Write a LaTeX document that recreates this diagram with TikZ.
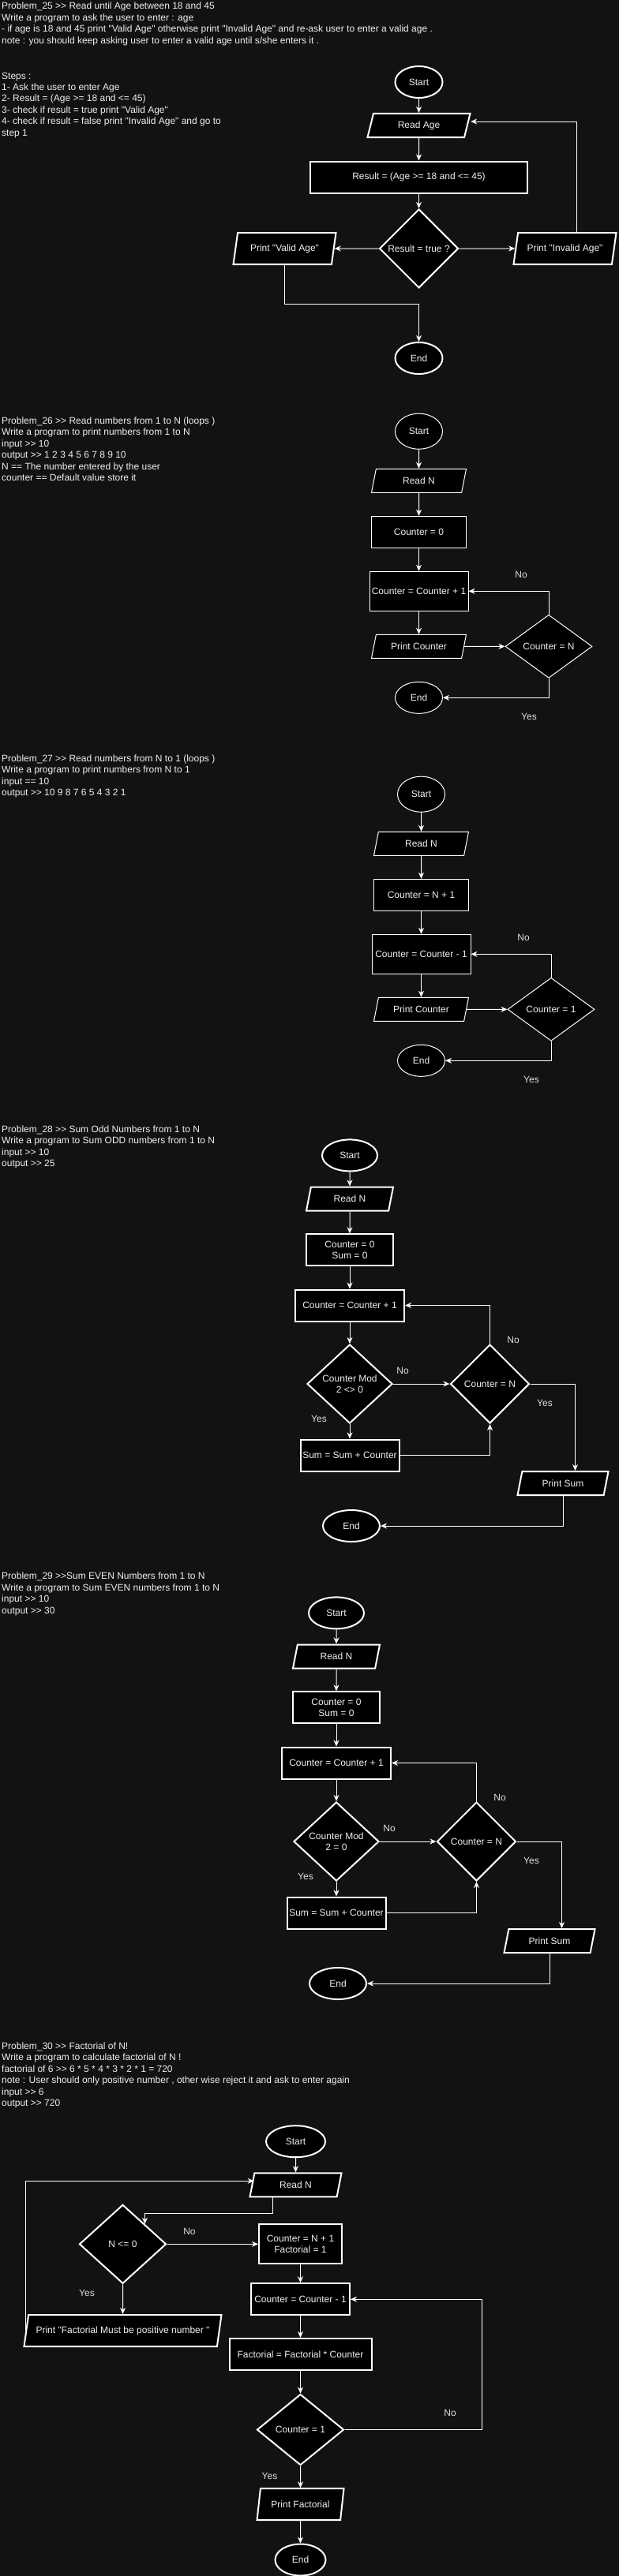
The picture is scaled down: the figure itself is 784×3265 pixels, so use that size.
\documentclass[tikz,border=0pt]{standalone}
\usepackage{fontspec}
\setmainfont{Liberation Sans}[Ligatures=TeXOff]
\usetikzlibrary{shapes.geometric,arrows.meta,calc}

\definecolor{bgc}{HTML}{121212}
\definecolor{fgc}{HTML}{F0F0F0}
\definecolor{lblc}{HTML}{E0E0E0}

\tikzset{
  flowshape/.style={draw=white, fill=black, text=fgc, line width=2pt, inner sep=0pt,
    align=center, font=\fontsize{12pt}{14.4pt}\selectfont},
  startstop/.style={flowshape, ellipse},
  proc/.style={flowshape, rectangle},
  decide/.style={flowshape, diamond},
  inout/.style={flowshape, trapezium, trapezium stretches body,
    trapezium left angle=56.31, trapezium right angle=123.69, minimum height=30pt},
  inoutl/.style={flowshape, trapezium, trapezium stretches body,
    trapezium left angle=63.43, trapezium right angle=116.57, minimum height=40pt},
  slim/.style={line width=1pt},
  txt/.style={text=fgc, inner sep=0pt, anchor=north west, align=left,
    font=\fontsize{12pt}{14.4pt}\selectfont},
  lbl/.style={text=lblc, inner sep=0pt, font=\fontsize{12pt}{14.4pt}\selectfont},
  flow/.style={draw=white, line width=1pt, -{Stealth[length=8pt,width=7pt,inset=2.5pt]}},
}

\begin{document}
\begin{tikzpicture}[x=1pt,y=-1pt]
  \fill[bgc] (0,0) rectangle (784,3265);
  \useasboundingbox (0,0) rectangle (784,3265);

  % Problem 25
  \node[txt] (head25) at (2,3) {Problem\_25 >> Read until Age between 18 and 45\\
    Write a program to ask the user to enter : age\\
    - if age is 18 and 45 print "Valid Age" otherwise print "Invalid Age" and re-ask user to enter a valid age .\\
    note : you should keep asking user to enter a valid age until s/she enters it .};
  \node[txt] (steps25) at (2,91.5) {Steps :\\
    1- Ask the user to enter Age\\
    2- Result = (Age >= 18 and <= 45)\\
    3- check if result = true print "Valid Age"\\
    4- check if result = false print "Invalid Age" and go to\\
    step 1};

  \node[startstop, minimum width=60pt, minimum height=40pt] (start25) at (530.5,104) {Start};
  \node[inout, minimum width=130pt] (read25) at (530.5,159) {Read Age};
  \node[proc, minimum width=275pt, minimum height=40pt] (calc25) at (530.5,224.5) {Result = (Age >= 18 and <= 45)};
  \node[decide, minimum width=100pt, minimum height=100pt] (test25) at (530.5,315) {Result = true ?};
  \node[inoutl, minimum width=130pt] (valid25) at (360.5,315) {Print "Valid Age"};
  \node[inoutl, minimum width=130pt] (invalid25) at (715.5,315) {Print "Invalid Age"};
  \node[startstop, minimum width=60pt, minimum height=40pt] (end25) at (530.5,454) {End};

  \draw[flow] (start25) -- (read25);
  \draw[flow] (read25) -- (calc25);
  \draw[flow] (calc25) -- (test25);
  \draw[flow] (test25) -- (valid25);
  \draw[flow] (test25) -- (invalid25);
  \draw[flow] ($(invalid25.north)+(14.5,0)$) |- ($(read25.east)+(3.3,-5)$);
  \draw[flow] (valid25.south) -- ++(0,49) -| (end25.north);

  % Problem 26
  \node[txt] (head26) at (2,528.5) {Problem\_26 >> Read numbers from 1 to N (loops )\\
    Write a program to print numbers from 1 to N\\
    input >> 10\\
    output >> 1 2 3 4 5 6 7 8 9 10\\
    N == The number entered by the user\\
    counter == Default value store it};

  \node[startstop, slim, minimum width=60pt, minimum height=45pt] (start26) at (530.5,546.7) {Start};
  \node[inout, slim, minimum width=120pt] (read26) at (530.5,609.3) {Read N};
  \node[proc, slim, minimum width=120pt, minimum height=40pt] (init26) at (530.5,674.3) {Counter = 0};
  \node[proc, slim, minimum width=125pt, minimum height=50pt] (inc26) at (530.5,749.3) {Counter = Counter + 1};
  \node[inout, slim, minimum width=120pt] (print26) at (530.5,819.3) {Print Counter};
  \node[decide, slim, minimum width=110pt, minimum height=80pt] (test26) at (695,819.3) {Counter = N};
  \node[startstop, slim, minimum width=60pt, minimum height=40pt] (end26) at (530.5,884.3) {End};
  \node[lbl] (no26) at (660,728.7) {No};
  \node[lbl] (yes26) at (670,908.3) {Yes};

  \draw[flow] (start26) -- (read26);
  \draw[flow] (read26) -- (init26);
  \draw[flow] (init26) -- (inc26);
  \draw[flow] (inc26) -- (print26);
  \draw[flow] (print26) -- (test26);
  \draw[flow] (test26.north) |- (inc26.east);
  \draw[flow] (test26.south) |- (end26.east);

  % Problem 27
  \node[txt] (head27) at (2,956.5) {Problem\_27 >> Read numbers from N to 1 (loops )\\
    Write a program to print numbers from N to 1\\
    input == 10\\
    output >> 10 9 8 7 6 5 4 3 2 1};

  \node[startstop, slim, minimum width=60pt, minimum height=45pt] (start27) at (533.5,1006.7) {Start};
  \node[inout, slim, minimum width=120pt] (read27) at (533.5,1069.3) {Read N};
  \node[proc, slim, minimum width=120pt, minimum height=40pt] (init27) at (533.5,1134.3) {Counter = N + 1};
  \node[proc, slim, minimum width=125pt, minimum height=50pt] (dec27) at (533.5,1209.3) {Counter = Counter - 1};
  \node[inout, slim, minimum width=120pt] (print27) at (533.5,1279.3) {Print Counter};
  \node[decide, slim, minimum width=110pt, minimum height=80pt] (test27) at (698,1279.3) {Counter = 1};
  \node[startstop, slim, minimum width=60pt, minimum height=40pt] (end27) at (533.5,1344.3) {End};
  \node[lbl] (no27) at (663,1188.7) {No};
  \node[lbl] (yes27) at (673,1368.3) {Yes};

  \draw[flow] (start27) -- (read27);
  \draw[flow] (read27) -- (init27);
  \draw[flow] (init27) -- (dec27);
  \draw[flow] (dec27) -- (print27);
  \draw[flow] (print27) -- (test27);
  \draw[flow] (test27.north) |- (dec27.east);
  \draw[flow] (test27.south) |- (end27.east);

  % Problem 28
  \node[txt] (head28) at (2,1426.5) {Problem\_28 >> Sum Odd Numbers from 1 to N\\
    Write a program to Sum ODD numbers from 1 to N\\
    input >> 10\\
    output >> 25};

  \node[startstop, minimum width=70pt, minimum height=40pt] (start28) at (443,1464.4) {Start};
  \node[inout, minimum width=110pt] (read28) at (443,1519.5) {Read N};
  \node[proc, minimum width=110pt, minimum height=40pt] (init28) at (443,1584.4) {Counter = 0\\Sum = 0};
  \node[proc, minimum width=138pt, minimum height=40pt] (inc28) at (443,1654.5) {Counter = Counter + 1};
  \node[decide, minimum width=108pt, minimum height=100pt] (odd28) at (443,1754) {Counter Mod\\2 <> 0};
  \node[decide, minimum width=100pt, minimum height=100pt] (test28) at (620.5,1754) {Counter = N};
  \node[proc, minimum width=125pt, minimum height=40pt] (sum28) at (443,1844.5) {Sum = Sum + Counter};
  \node[inout, minimum width=115pt] (print28) at (713,1880) {Print Sum};
  \node[startstop, minimum width=72pt, minimum height=40pt] (end28) at (445,1934) {End};
  \node[lbl] (no28a) at (510,1737.7) {No};
  \node[lbl] (yes28a) at (404,1798.4) {Yes};
  \node[lbl] (no28b) at (650,1698.9) {No};
  \node[lbl] (yes28b) at (690,1778.9) {Yes};

  \draw[flow] (start28) -- (read28);
  \draw[flow] (read28) -- (init28);
  \draw[flow] (init28) -- (inc28);
  \draw[flow] (inc28) -- (odd28);
  \draw[flow] (odd28) -- (sum28);
  \draw[flow] (odd28) -- (test28);
  \draw[flow] (sum28.east) -| (test28.south);
  \draw[flow] (test28.north) |- (inc28.east);
  \draw[flow] (test28.east) -| ($(print28.north)+(15.5,0)$);
  \draw[flow] (print28.south) |- (end28.east);

  % Problem 29
  \node[txt] (head29) at (2,1992.9) {Problem\_29 >>Sum EVEN Numbers from 1 to N\\
    Write a program to Sum EVEN numbers from 1 to N\\
    input >> 10\\
    output >> 30};

  \node[startstop, minimum width=70pt, minimum height=40pt] (start29) at (426,2044.4) {Start};
  \node[inout, minimum width=110pt] (read29) at (426,2099.5) {Read N};
  \node[proc, minimum width=110pt, minimum height=40pt] (init29) at (426,2164.4) {Counter = 0\\Sum = 0};
  \node[proc, minimum width=138pt, minimum height=40pt] (inc29) at (426,2234.5) {Counter = Counter + 1};
  \node[decide, minimum width=108pt, minimum height=100pt] (even29) at (426,2334) {Counter Mod\\2 = 0};
  \node[decide, minimum width=100pt, minimum height=100pt] (test29) at (603.5,2334) {Counter = N};
  \node[proc, minimum width=125pt, minimum height=40pt] (sum29) at (426,2424.5) {Sum = Sum + Counter};
  \node[inout, minimum width=115pt] (print29) at (696,2460) {Print Sum};
  \node[startstop, minimum width=72pt, minimum height=40pt] (end29) at (428,2514) {End};
  \node[lbl] (no29a) at (493,2317.7) {No};
  \node[lbl] (yes29a) at (387,2378.4) {Yes};
  \node[lbl] (no29b) at (633,2278.9) {No};
  \node[lbl] (yes29b) at (673,2358.9) {Yes};

  \draw[flow] (start29) -- (read29);
  \draw[flow] (read29) -- (init29);
  \draw[flow] (init29) -- (inc29);
  \draw[flow] (inc29) -- (even29);
  \draw[flow] (even29) -- (sum29);
  \draw[flow] (even29) -- (test29);
  \draw[flow] (sum29.east) -| (test29.south);
  \draw[flow] (test29.north) |- (inc29.east);
  \draw[flow] (test29.east) -| ($(print29.north)+(15.5,0)$);
  \draw[flow] (print29.south) |- (end29.east);

  % Problem 30
  \node[txt] (head30) at (2,2588.5) {Problem\_30 >> Factorial of N!\\
    Write a program to calculate factorial of N !\\
    factorial of 6 >> 6 * 5 * 4 * 3 * 2 * 1 = 720\\
    note : User should only positive number , other wise reject it and ask to enter again\\
    input >> 6\\
    output >> 720};

  \node[startstop, minimum width=75pt, minimum height=40pt] (start30) at (374.5,2714.2) {Start};
  \node[inout, minimum width=116pt] (read30) at (374.5,2769.3) {Read N};
  \node[decide, minimum width=110pt, minimum height=100pt] (test30) at (155.5,2844.3) {N <= 0};
  \node[proc, minimum width=105pt, minimum height=50pt] (init30) at (380.5,2844.3) {Counter = N + 1\\Factorial = 1};
  \node[inoutl, minimum width=250pt] (msg30) at (155.5,2954) {Print "Factorial Must be positive number "};
  \node[proc, minimum width=125pt, minimum height=40pt] (dec30) at (380.5,2914.2) {Counter = Counter - 1};
  \node[proc, minimum width=180pt, minimum height=40pt] (fact30) at (380.5,2983.9) {Factorial = Factorial * Counter};
  \node[decide, minimum width=110pt, minimum height=90pt] (one30) at (380.5,3079.5) {Counter = 1};
  \node[inoutl, minimum width=110pt] (print30) at (380.5,3174.2) {Print Factorial};
  \node[startstop, minimum width=64pt, minimum height=40pt] (end30) at (380.5,3244.5) {End};
  \node[lbl] (no30a) at (240,2828.3) {No};
  \node[lbl] (yes30a) at (110,2906.3) {Yes};
  \node[lbl] (no30b) at (570,3058.5) {No};
  \node[lbl] (yes30b) at (341.5,3138) {Yes};

  \draw[flow] (start30) -- (read30);
  \draw[flow] ($(read30.south)+(-29.5,0)$) -- ++(0,20) -| (test30.north east);
  \draw[flow] (test30) -- (init30);
  \draw[flow] (test30) -- (msg30);
  \draw[flow] (msg30.west) |- ($(read30.west)+(3.3,-5)$);
  \draw[flow] (init30) -- (dec30);
  \draw[flow] (dec30) -- (fact30);
  \draw[flow] (fact30) -- (one30);
  \draw[flow] (one30.east) -- ++(174,0) |- (dec30.east);
  \draw[flow] (one30) -- (print30);
  \draw[flow] (print30) -- (end30);
\end{tikzpicture}
\end{document}
